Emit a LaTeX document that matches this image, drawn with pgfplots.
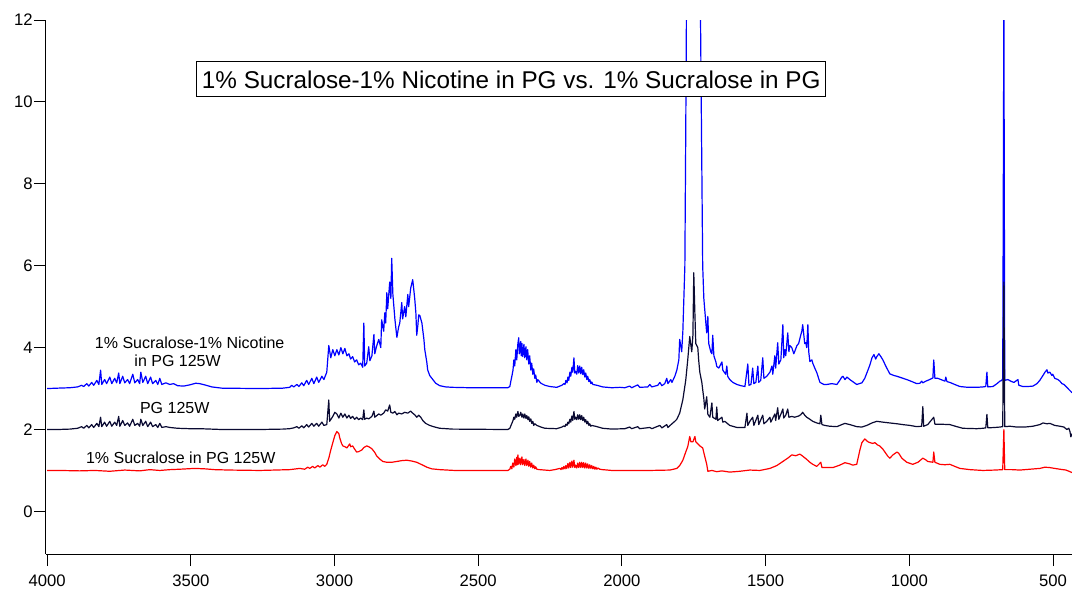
\documentclass[border=0pt]{standalone}
\usepackage{fontspec}
\setmainfont{Liberation Sans}
\usepackage{pgfplots}
\pgfplotsset{compat=1.18}
\definecolor{specblue}{RGB}{0,0,255}
\definecolor{specnavy}{RGB}{10,10,50}
\definecolor{specred}{RGB}{255,0,0}

\begin{document}
\begin{tikzpicture}[x=1pt,y=1pt]
\useasboundingbox (-34.5,-27) rectangle (769.5,415.5);
\begin{axis}[
  at={(0,0)}, anchor=south west,
  scale only axis, width=769.5pt, height=400.5pt,
  x dir=reverse, xmin=434, xmax=4004, ymin=-1.04, ymax=12,
  axis lines=left, axis line style={-, line width=0.75pt, black},
  tick align=outside, major tick length=9pt,
  tick style={line width=0.75pt, black},
  xtick={500,1000,...,4000}, ytick={0,2,...,12},
  tick label style={font=\fontsize{12.5}{14}\selectfont},
  /pgf/number format/assume math mode=true,
  /pgf/number format/1000 sep={},
  xticklabel style={yshift=-3pt},
  yticklabel style={xshift=2.5pt},
  every axis plot/.append style={line width=0.9pt, line join=round, mark=none},
  clip=true,
]
% sample with 1% sucralose and 1% nicotine in PG, offset +3
\addplot[specblue] coordinates {
(4000,3.00)(3963,3.01)(3921,3.02)(3894,3.04)(3880,3.08)(3873,3.05)(3862,3.12)(3855,3.06)
(3845,3.15)(3838,3.08)(3827,3.20)(3820,3.10)(3814,3.45)(3810,3.10)(3800,3.22)(3793,3.12)
(3782,3.28)(3775,3.12)(3765,3.25)(3758,3.14)(3751,3.38)(3747,3.12)(3737,3.30)(3730,3.14)
(3720,3.22)(3713,3.12)(3702,3.35)(3695,3.14)(3685,3.22)(3678,3.12)(3674,3.40)(3667,3.15)
(3657,3.30)(3650,3.12)(3640,3.28)(3633,3.12)(3622,3.20)(3615,3.10)(3608,3.25)(3601,3.10)
(3587,3.14)(3573,3.10)(3560,3.12)(3546,3.07)(3525,3.06)(3504,3.09)(3483,3.13)(3469,3.12)
(3452,3.09)(3427,3.04)(3392,3.01)(3260,3.00)(3180,3.01)(3156,3.03)(3149,3.08)(3142,3.04)
(3131,3.10)(3124,3.05)(3114,3.14)(3107,3.07)(3097,3.20)(3090,3.10)(3079,3.25)(3072,3.12)
(3062,3.28)(3055,3.15)(3044,3.30)(3037,3.22)(3027,3.40)(3020,4.05)(3013,3.75)(3006,3.95)
(2999,3.80)(2992,3.95)(2985,3.82)(2978,4.00)(2971,3.85)(2964,3.98)(2957,3.80)(2950,3.85)
(2944,3.72)(2937,3.78)(2930,3.65)(2923,3.70)(2916,3.58)(2909,3.62)(2902,3.52)(2898,4.60)
(2895,3.55)(2888,3.62)(2881,4.02)(2877,3.68)(2870,3.80)(2863,4.32)(2860,3.85)(2853,4.05)
(2846,4.20)(2839,4.00)(2836,4.68)(2829,4.40)(2825,4.85)(2822,4.60)(2818,5.34)(2815,4.95)
(2808,5.60)(2804,5.20)(2801,6.18)(2797,5.30)(2790,4.70)(2787,4.50)(2783,4.25)(2777,4.50)
(2773,4.60)(2766,5.10)(2763,4.70)(2756,5.00)(2752,4.75)(2745,5.30)(2742,5.00)(2735,5.45)
(2728,5.66)(2724,5.40)(2721,5.20)(2717,4.85)(2714,4.30)(2710,4.55)(2707,4.80)(2703,4.78)
(2696,4.60)(2689,4.20)(2686,3.95)(2679,3.65)(2676,3.46)(2669,3.32)(2658,3.22)(2648,3.13)
(2634,3.07)(2613,3.04)(2589,3.03)(2529,3.02)(2397,3.02)
(2390,3.05)(2386,3.20)(2383,3.30)(2379,3.45)(2376,3.70)(2373,3.55)(2369,3.95)(2366,3.70)
(2362,4.10)(2359,4.24)(2357,3.85)(2355,3.90)(2352,4.15)(2350,3.80)(2348,4.10)(2345,3.78)
(2341,4.08)(2338,3.75)(2334,4.02)(2331,3.70)(2328,3.95)(2324,3.60)(2321,3.80)(2317,3.45)
(2314,3.62)(2310,3.35)(2307,3.48)(2303,3.25)(2300,3.33)(2296,3.15)(2293,3.22)(2282,3.13)
(2268,3.08)(2251,3.05)(2227,3.03)
(2209,3.08)(2202,3.12)(2198,3.10)(2195,3.20)(2191,3.14)(2188,3.28)(2185,3.20)(2181,3.40)
(2178,3.30)(2174,3.52)(2171,3.40)(2167,3.75)(2164,3.38)(2161,3.42)(2157,3.35)(2154,3.56)
(2150,3.38)(2147,3.55)(2143,3.36)(2140,3.52)(2136,3.34)(2133,3.46)(2129,3.28)(2126,3.38)
(2122,3.22)(2119,3.30)(2115,3.17)(2112,3.22)(2108,3.12)(2105,3.16)(2101,3.10)(2087,3.08)
(2067,3.04)(2035,3.02)(2007,3.03)(1990,3.02)(1973,3.06)(1966,3.02)(1945,3.09)
(1938,3.03)(1910,3.04)(1903,3.10)(1896,3.04)(1875,3.08)(1868,3.15)(1861,3.07)(1851,3.12)
(1844,3.25)(1840,3.12)(1830,3.22)(1826,3.15)(1816,3.30)(1809,3.45)(1802,3.70)(1799,4.20)
(1792,3.90)(1788,4.40)(1781,6.00)(1778,9.20)(1774,14)(1750,16)(1729,14)(1722,8.40)
(1719,6.00)(1715,5.20)(1708,4.60)(1705,4.36)(1701,4.76)(1698,4.10)(1691,3.90)(1687,3.85)
(1684,4.30)(1680,3.80)(1673,3.65)(1670,3.54)(1663,3.50)(1652,3.65)(1649,3.45)(1639,3.35)
(1635,3.55)(1632,3.30)(1625,3.22)(1614,3.15)(1600,3.10)(1586,3.07)(1572,3.05)(1562,3.60)
(1558,3.08)(1551,3.10)(1545,3.50)(1541,3.12)(1534,3.15)(1527,3.55)(1524,3.15)(1517,3.20)
(1510,3.75)(1506,3.25)(1496,3.30)(1485,3.40)(1478,3.55)(1475,3.35)(1468,3.80)(1465,3.50)
(1458,4.12)(1454,3.60)(1447,3.70)(1440,4.56)(1437,3.75)(1433,3.95)(1430,3.80)(1423,4.36)
(1419,3.90)(1416,4.05)(1409,4.00)(1402,3.85)(1399,3.90)(1391,4.05)(1385,4.10)(1378,4.30)
(1374,4.40)(1371,4.56)(1367,4.30)(1364,4.10)(1360,4.12)(1357,4.00)(1353,4.56)(1350,3.90)
(1346,3.66)(1339,3.70)(1336,3.62)(1329,3.50)(1322,3.39)(1311,3.15)(1297,3.10)(1287,3.10)
(1270,3.12)(1252,3.10)(1242,3.20)(1235,3.28)(1231,3.30)(1224,3.22)(1217,3.28)(1207,3.22)
(1193,3.15)(1183,3.10)(1165,3.14)(1155,3.25)(1144,3.45)(1137,3.58)(1130,3.75)(1123,3.83)
(1117,3.72)(1113,3.78)(1106,3.85)(1099,3.78)(1092,3.70)(1082,3.55)(1068,3.36)(1054,3.32)
(1043,3.30)(1026,3.26)(1009,3.22)(991,3.17)(974,3.12)(963,3.13)(957,3.18)(953,3.14)
(943,3.18)(929,3.22)(918,3.26)(915,3.70)(911,3.25)(901,3.25)(890,3.22)(876,3.18)
(873,3.28)(869,3.17)(859,3.15)(842,3.10)(824,3.05)(796,3.03)(765,3.03)(744,3.04)
(734,3.05)(730,3.40)(727,3.04)(709,3.05)(695,3.12)(685,3.18)(678,3.20)(675,3.25)
(671,12.5)(668,3.20)(657,3.22)(647,3.18)(636,3.15)(622,3.22)(619,3.08)(605,3.05)
(588,3.05)(570,3.06)(556,3.12)(546,3.20)(535,3.32)(528,3.40)(521,3.46)(518,3.38)
(511,3.40)(504,3.32)(501,3.35)(494,3.25)(483,3.22)(476,3.18)(469,3.12)(462,3.10)
(455,3.05)(448,3.00)(441,2.95)(434,2.90)
};
% PG only, offset +2
\addplot[specnavy] coordinates {
(4000,2.00)(3963,2.00)(3921,2.01)(3894,2.03)(3880,2.07)(3873,2.03)(3862,2.10)(3855,2.04)
(3845,2.12)(3838,2.05)(3827,2.15)(3820,2.07)(3814,2.30)(3810,2.07)(3800,2.18)(3793,2.08)
(3782,2.20)(3775,2.08)(3765,2.18)(3758,2.10)(3751,2.32)(3747,2.08)(3737,2.22)(3730,2.10)
(3720,2.16)(3713,2.08)(3702,2.25)(3695,2.10)(3685,2.15)(3678,2.08)(3674,2.25)(3667,2.10)
(3657,2.20)(3650,2.07)(3640,2.18)(3633,2.07)(3622,2.12)(3615,2.05)(3608,2.15)(3601,2.05)
(3587,2.07)(3573,2.05)(3546,2.03)(3504,2.02)(3469,2.02)(3392,2.00)(3260,2.00)(3180,2.01)
(3156,2.02)(3142,2.04)(3131,2.07)(3124,2.03)(3114,2.09)(3107,2.04)(3097,2.12)(3090,2.06)
(3079,2.15)(3072,2.08)(3062,2.15)(3055,2.08)(3044,2.18)(3037,2.10)(3027,2.12)(3020,2.72)
(3017,2.20)(3006,2.32)(2999,2.42)(2992,2.38)(2985,2.28)(2978,2.40)(2971,2.30)(2964,2.38)
(2957,2.28)(2950,2.35)(2944,2.27)(2937,2.32)(2930,2.25)(2923,2.30)(2916,2.24)(2909,2.28)
(2902,2.24)(2898,2.48)(2895,2.25)(2888,2.28)(2881,2.26)(2870,2.32)(2863,2.45)(2860,2.30)
(2853,2.34)(2846,2.38)(2839,2.35)(2829,2.40)(2822,2.48)(2815,2.45)(2808,2.60)(2804,2.42)
(2797,2.40)(2790,2.44)(2783,2.36)(2777,2.40)(2766,2.38)(2756,2.42)(2745,2.40)(2735,2.45)
(2728,2.40)(2721,2.36)(2714,2.30)(2707,2.35)(2700,2.30)(2693,2.22)(2683,2.15)(2669,2.10)
(2651,2.06)(2634,2.03)(2589,2.01)(2397,2.00)
(2390,2.03)(2386,2.10)(2383,2.15)(2379,2.22)(2376,2.30)(2373,2.25)(2369,2.38)(2366,2.30)
(2362,2.44)(2359,2.32)(2355,2.35)(2352,2.42)(2348,2.30)(2345,2.38)(2341,2.28)(2338,2.38)
(2334,2.27)(2331,2.34)(2327,2.24)(2324,2.31)(2321,2.20)(2317,2.26)(2314,2.15)(2310,2.20)
(2307,2.10)(2303,2.14)(2296,2.10)(2282,2.06)(2268,2.03)(2227,2.02)
(2209,2.06)(2202,2.09)(2198,2.07)(2195,2.13)(2191,2.10)(2188,2.18)(2185,2.14)(2181,2.25)
(2178,2.18)(2174,2.33)(2171,2.22)(2167,2.44)(2164,2.25)(2161,2.30)(2157,2.24)(2154,2.36)
(2150,2.25)(2147,2.36)(2143,2.24)(2140,2.34)(2136,2.22)(2133,2.30)(2129,2.18)(2126,2.24)
(2122,2.14)(2119,2.20)(2115,2.10)(2112,2.14)(2108,2.08)(2105,2.10)(2087,2.07)
(2067,2.03)(2035,2.01)(1990,2.02)(1973,2.06)(1966,2.02)(1945,2.07)(1938,2.02)
(1903,2.05)(1896,2.02)(1868,2.10)(1861,2.04)(1844,2.12)(1840,2.05)(1826,2.14)(1816,2.20)
(1809,2.25)(1799,2.40)(1788,2.73)(1778,3.20)(1771,3.70)(1764,4.27)(1760,4.05)(1757,3.90)
(1753,4.30)(1750,5.83)(1746,4.80)(1743,4.10)(1736,4.00)(1733,3.70)(1729,3.40)(1722,3.15)
(1715,2.75)(1712,2.50)(1705,2.80)(1701,2.37)(1694,2.30)(1687,2.65)(1684,2.30)(1673,2.25)
(1670,2.55)(1667,2.22)(1652,2.30)(1649,2.18)(1642,2.20)(1625,2.10)(1600,2.05)(1572,2.05)
(1565,2.40)(1562,2.10)(1555,2.20)(1545,2.30)(1541,2.10)(1527,2.35)(1524,2.12)(1510,2.35)
(1506,2.14)(1496,2.20)(1485,2.30)(1482,2.18)(1468,2.38)(1465,2.22)(1458,2.53)(1454,2.25)
(1440,2.50)(1437,2.28)(1430,2.35)(1423,2.50)(1419,2.30)(1409,2.32)(1399,2.30)(1385,2.33)
(1378,2.36)(1371,2.42)(1364,2.35)(1357,2.30)(1346,2.25)(1336,2.20)(1322,2.16)(1311,2.14)
(1308,2.35)(1304,2.12)(1294,2.10)(1277,2.08)(1252,2.07)(1235,2.12)(1224,2.15)(1207,2.12)
(1183,2.07)(1165,2.06)(1148,2.10)(1130,2.16)(1113,2.20)(1092,2.18)(1068,2.16)(1043,2.14)
(1023,2.12)(998,2.10)(974,2.07)(957,2.08)(953,2.56)(950,2.08)(936,2.12)(915,2.30)
(911,2.13)(894,2.13)(859,2.12)(835,2.07)(814,2.03)(765,2.02)(744,2.03)(734,2.04)
(730,2.37)(727,2.04)(702,2.05)(685,2.06)(675,2.07)(671,5.60)(668,2.07)(650,2.08)
(626,2.06)(598,2.06)(570,2.08)(546,2.12)(535,2.16)(521,2.14)(511,2.15)(494,2.10)
(476,2.08)(462,2.06)(452,2.00)(445,2.03)(441,1.95)(438,1.82)(434,1.90)
};
% 1% sucralose in PG, offset +1
\addplot[specred] coordinates {
(4000,1.00)(3956,1.00)(3887,0.99)(3834,1.00)(3782,0.98)(3730,1.01)(3678,0.99)(3643,1.02)
(3608,1.00)(3573,1.02)(3539,1.03)(3486,1.05)(3452,1.04)(3417,1.02)(3365,1.01)(3260,1.00)
(3156,1.02)(3121,1.05)(3104,1.03)(3093,1.08)(3086,1.05)(3076,1.10)(3069,1.06)(3058,1.12)
(3051,1.08)(3041,1.14)(3034,1.10)(3027,1.15)(3020,1.30)(3013,1.50)(3006,1.68)(2999,1.85)
(2992,1.95)(2985,1.90)(2982,1.80)(2975,1.65)(2971,1.60)(2964,1.58)(2957,1.55)(2950,1.62)
(2947,1.65)(2944,1.58)(2937,1.60)(2930,1.52)(2923,1.45)(2916,1.46)(2905,1.50)(2898,1.56)
(2888,1.60)(2881,1.58)(2870,1.53)(2860,1.44)(2853,1.35)(2843,1.28)(2832,1.22)(2818,1.20)
(2801,1.20)(2783,1.22)(2766,1.24)(2749,1.25)(2731,1.23)(2714,1.20)(2696,1.14)(2679,1.08)
(2662,1.04)(2634,1.02)(2582,1.00)(2397,1.00)
(2390,1.03)(2387,1.10)(2383,1.04)(2380,1.18)(2376,1.08)(2373,1.28)(2369,1.12)(2366,1.32)
(2364,1.14)(2362,1.38)(2359,1.15)(2355,1.30)(2352,1.14)(2348,1.33)(2345,1.14)(2341,1.27)
(2338,1.12)(2334,1.28)(2331,1.12)(2327,1.25)(2324,1.10)(2321,1.22)(2317,1.08)(2314,1.18)
(2310,1.06)(2307,1.13)(2303,1.04)(2300,1.09)(2296,1.03)(2286,1.02)(2251,1.00)(2234,1.02)
(2216,1.05)(2212,1.02)(2209,1.07)(2205,1.03)(2202,1.10)(2198,1.04)(2195,1.12)(2192,1.05)
(2188,1.17)(2185,1.06)(2181,1.20)(2178,1.07)(2174,1.23)(2171,1.08)(2167,1.25)(2164,1.07)
(2161,1.13)(2157,1.06)(2154,1.18)(2150,1.07)(2147,1.20)(2143,1.07)(2140,1.20)(2136,1.07)
(2133,1.19)(2129,1.06)(2126,1.18)(2122,1.06)(2119,1.16)(2115,1.05)(2112,1.14)(2108,1.05)
(2105,1.12)(2101,1.04)(2098,1.10)(2094,1.03)(2091,1.08)(2087,1.03)(2084,1.06)(2077,1.03)
(2067,1.02)(2035,1.00)(1903,1.00)(1833,1.01)(1809,1.05)(1799,1.12)(1788,1.25)
(1778,1.45)(1771,1.58)(1764,1.83)(1760,1.70)(1753,1.70)(1746,1.83)(1743,1.70)(1736,1.65)
(1729,1.60)(1719,1.55)(1712,1.35)(1705,1.15)(1701,0.98)(1687,1.00)(1670,0.97)(1652,0.99)
(1625,0.96)(1590,0.98)(1555,1.01)(1520,1.00)(1485,1.05)(1461,1.12)(1440,1.22)(1423,1.30)
(1409,1.38)(1395,1.36)(1381,1.40)(1371,1.35)(1357,1.27)(1346,1.20)(1336,1.15)(1322,1.10)
(1308,1.20)(1304,1.07)(1287,1.07)(1266,1.07)(1242,1.13)(1224,1.19)(1207,1.16)(1197,1.13)
(1183,1.15)(1172,1.50)(1165,1.68)(1155,1.77)(1144,1.70)(1137,1.68)(1127,1.66)(1120,1.68)
(1110,1.62)(1103,1.60)(1092,1.52)(1085,1.45)(1075,1.35)(1068,1.30)(1057,1.38)(1043,1.45)
(1037,1.42)(1026,1.30)(1009,1.20)(988,1.15)(970,1.20)(953,1.30)(943,1.26)(936,1.22)
(918,1.20)(915,1.45)(911,1.20)(894,1.15)(876,1.14)(859,1.15)(842,1.10)(824,1.05)
(789,1.02)(744,1.00)(702,1.01)(675,1.02)(671,2.00)(668,1.02)(643,1.02)(615,1.01)
(581,1.03)(546,1.05)(528,1.08)(511,1.07)(494,1.05)(476,1.03)(455,1.01)(441,0.97)
(434,0.95)
};
% curve labels and title box
\node[font=\fontsize{12}{14}\selectfont, inner sep=0pt] at (axis cs:3504,4.11) {1\% Sucralose-1\% Nicotine};
\node[font=\fontsize{12}{14}\selectfont, inner sep=0pt] at (axis cs:3546,3.67) {in PG 125W};
\node[font=\fontsize{12}{14}\selectfont, inner sep=0pt] at (axis cs:3556,2.525) {PG 125W};
\node[font=\fontsize{12}{14}\selectfont, inner sep=0pt] at (axis cs:3535,1.30) {1\% Sucralose in PG 125W};
\node[draw=black, fill=white, line width=0.75pt, inner sep=0pt,
      minimum width=471.75pt, minimum height=26.25pt,
      font=\fontsize{18.2}{21}\selectfont] at (axis cs:2385,10.55)
      {1\% Sucralose-1\% Nicotine in PG vs. 1\% Sucralose in PG};
\end{axis}
\end{tikzpicture}
\end{document}
